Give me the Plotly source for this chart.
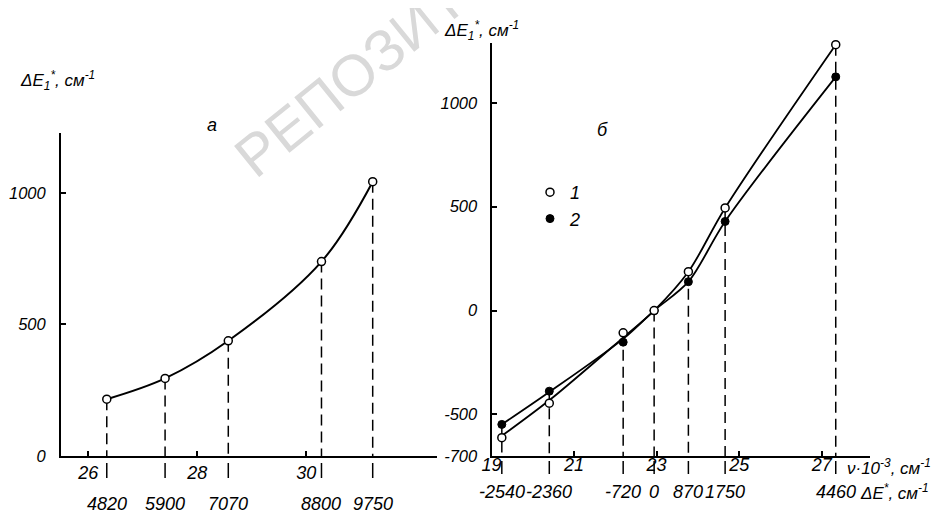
import plotly.graph_objects as go

# ---------------- data ----------------
# panel а
a_nu = [26.34, 27.41, 28.57, 30.28, 31.22]          # ν·10^-3, cm^-1
a_dE1 = [216, 295, 438, 739, 1043]                  # ΔE1*, cm^-1
a_dE_labels = ["4820", "5900", "7070", "8800", "9750"]
a_xticks = [26, 28, 30]
a_yticks = [0, 500, 1000]

# panel б : measured points
b_nu = [19.25, 20.40, 22.19, 22.94, 23.77, 24.66, 27.34]
b_s1 = [-612, -446, -107, 0, 187, 494, 1280]
b_s2 = [-548, -388, -152, 0, 139, 429, 1125]
# panel б : drawn (smoothed) curves at the same ν
b_curve1 = [-603, -432, -130, 0, 187, 494, 1280]
b_curve2 = [-548, -392, -136, 0, 139, 429, 1125]
b_dE_labels = ["-2540", "-2360", "-720", "0", "870", "1750", "4460"]
b_xticks = [19, 21, 23, 25, 27]
b_yticks = [-700, -500, 0, 500, 1000]
b_yticklabels = ["-700", "-500", "0", "500", "1000"]
series_names = ["1", "2"]

# ---------------- layout geometry ----------------
OFF = 8                      # page body margin of the browser
W, H = 945 - OFF, 517 - OFF
B = 61
PH = H - B
FONT = "'Liberation Sans', Arial, sans-serif"
TF = dict(family=FONT, size=18, color="black", style="italic")
YF = dict(family=FONT, size=16.5, color="black", style="italic")
LF = dict(family=FONT, size=17, color="black", style="italic")

A_YMIN, A_YMAX = 0, 1228
B_YMIN, B_YMAX = -700, 1288


def px(x):
    return (x - OFF) / W


def py(y):
    return 1 - (y - OFF) / PH


def drops(xs, ys, base):
    X, Y = [], []
    for x, y in zip(xs, ys):
        X += [x, x, None]
        Y += [y, base, None]
    return X, Y


fig = go.Figure()

DASH = dict(color="black", width=1.5, dash="11px,6px")

# ---- panel а ----
dx, dy = drops(a_nu, a_dE1, A_YMIN)
fig.add_trace(go.Scatter(x=dx, y=dy, mode="lines", line=DASH, showlegend=False,
                         xaxis="x", yaxis="y", hoverinfo="skip"))
fig.add_trace(go.Scatter(x=a_nu, y=a_dE1, mode="lines",
                         line=dict(color="black", width=2, shape="spline", smoothing=1),
                         showlegend=False, xaxis="x", yaxis="y"))
fig.add_trace(go.Scatter(x=a_nu, y=a_dE1, mode="markers",
                         marker=dict(symbol="circle", size=8, color="white",
                                     line=dict(color="black", width=1.5)),
                         showlegend=False, xaxis="x", yaxis="y", cliponaxis=False))

# ---- panel б ----
tops = [max(p, q) for p, q in zip(b_s1, b_s2)]
dx, dy = drops(b_nu, tops, B_YMIN)
fig.add_trace(go.Scatter(x=dx, y=dy, mode="lines", line=DASH, showlegend=False,
                         xaxis="x2", yaxis="y2", hoverinfo="skip"))
for c in (b_curve1, b_curve2):
    fig.add_trace(go.Scatter(x=b_nu, y=c, mode="lines",
                             line=dict(color="black", width=1.8, shape="spline", smoothing=0.9),
                             showlegend=False, xaxis="x2", yaxis="y2"))
fig.add_trace(go.Scatter(x=b_nu, y=b_s2, mode="markers", name=series_names[1],
                         marker=dict(symbol="circle", size=8, color="black",
                                     line=dict(color="black", width=1)),
                         legendrank=2, xaxis="x2", yaxis="y2", cliponaxis=False))
fig.add_trace(go.Scatter(x=b_nu, y=b_s1, mode="markers", name=series_names[0],
                         marker=dict(symbol="circle", size=8, color="white",
                                     line=dict(color="black", width=1.5)),
                         legendrank=1, xaxis="x2", yaxis="y2", cliponaxis=False))

# short dashes continuing below the axes
shapes = []
for x in a_nu:
    shapes.append(dict(type="line", xref="x", yref="paper", x0=x, x1=x,
                       y0=-7 / PH, y1=-22 / PH, line=dict(color="black", width=1.5)))
for x in b_nu:
    shapes.append(dict(type="line", xref="x2", yref="paper", x0=x, x1=x,
                       y0=-5 / PH, y1=-18 / PH, line=dict(color="black", width=1.5)))

axis_common = dict(showline=True, linecolor="black", linewidth=2, showgrid=False,
                   zeroline=False, ticks="inside", ticklen=5, tickcolor="black",
                   tickwidth=1.5, tickangle=0, tickmode="array", automargin=False)

A_XR = [25.5, 32.4]
B_XR = [19, 28.17]

fig.update_layout(
    template="none",
    width=W, height=H,
    margin=dict(l=0, r=0, t=0, b=B, pad=0, autoexpand=False),
    paper_bgcolor="white", plot_bgcolor="rgba(0,0,0,0)",
    xaxis=dict(domain=[px(61), px(437)], range=A_XR, tickvals=a_xticks, tickfont=TF,
               anchor="y", ticklabelstandoff=-1, **axis_common),
    yaxis=dict(domain=[0, py(133)], range=[A_YMIN, A_YMAX], tickvals=a_yticks, tickfont=YF,
               anchor="x", ticklabelstandoff=10, **axis_common),
    xaxis2=dict(domain=[px(491.5), px(870)], range=B_XR, tickvals=b_xticks, tickfont=TF,
                anchor="y2", ticklabelstandoff=-9, **axis_common),
    yaxis2=dict(domain=[0, py(43)], range=[B_YMIN, B_YMAX], tickvals=b_yticks, tickfont=YF,
                ticktext=b_yticklabels, anchor="x2", ticklabelstandoff=9, **axis_common),
    showlegend=True,
    legend=dict(x=px(530), y=py(174), xanchor="left", yanchor="top",
                bgcolor="rgba(0,0,0,0)", borderwidth=0, font=TF, itemwidth=30,
                tracegroupgap=0),
    shapes=shapes,
)

ann = []
ann.append(dict(text="РЕПОЗИТОРИЙ", xref="paper", yref="paper", x=px(414), y=py(26),
                xanchor="center", yanchor="middle", showarrow=False, textangle=-39,
                font=dict(family="'Liberation Sans', sans-serif", size=58, color="#d9d9d9")))
# second row of x labels (ΔE* values) under the data points
for x, t in zip(a_nu, a_dE_labels):
    ann.append(dict(text=t, xref="x", yref="paper", x=x, y=py(504),
                    xanchor="center", yanchor="middle", showarrow=False, font=TF))
for x, t in zip(b_nu, b_dE_labels):
    ann.append(dict(text=t, xref="x2", yref="paper", x=x, y=py(492),
                    xanchor="center", yanchor="middle", showarrow=False, font=TF))
ylab = "ΔE<sub>1</sub><sup>*</sup>, см<sup>-1</sup>"
ann.append(dict(text=ylab, xref="paper", yref="paper", x=px(18), y=py(80),
                xanchor="left", yanchor="middle", showarrow=False, font=LF))
ann.append(dict(text=ylab, xref="paper", yref="paper", x=px(442), y=py(30),
                xanchor="left", yanchor="middle", showarrow=False, font=LF))
ann.append(dict(text="а", xref="paper", yref="paper", x=px(212), y=py(125),
                xanchor="center", yanchor="middle", showarrow=False, font=TF))
ann.append(dict(text="б", xref="paper", yref="paper", x=px(602), y=py(130),
                xanchor="center", yanchor="middle", showarrow=False, font=TF))
ann.append(dict(text="ν·10<sup>-3</sup>, см<sup>-1</sup>", xref="paper", yref="paper",
                x=px(845), y=py(467), xanchor="left", yanchor="middle",
                showarrow=False, font=LF))
ann.append(dict(text="ΔE<sup>*</sup>, см<sup>-1</sup>", xref="paper", yref="paper",
                x=px(858), y=py(492), xanchor="left", yanchor="middle",
                showarrow=False, font=LF))
fig.update_layout(annotations=ann)

fig.write_html("out.html")
